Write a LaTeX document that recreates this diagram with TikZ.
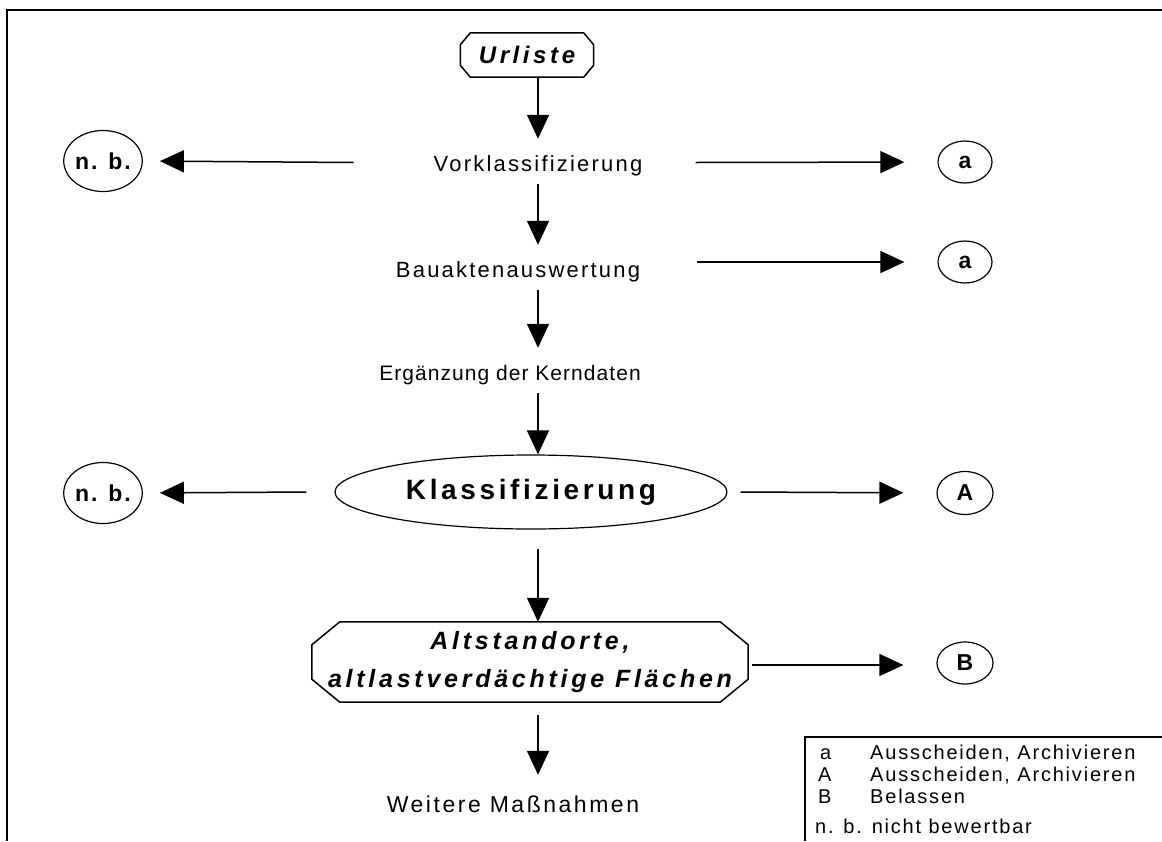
\documentclass[tikz,border=0pt]{standalone}
\usepackage{fontspec}
\setmainfont{Liberation Sans}
\newfontfamily\fBody[LetterSpace=10]{Liberation Sans}
\newfontfamily\fErg[LetterSpace=5]{Liberation Sans}
\newfontfamily\fWei[LetterSpace=11]{Liberation Sans}
\newfontfamily\fKlass[LetterSpace=13]{Liberation Sans}
\newfontfamily\fUrl[LetterSpace=15]{Liberation Sans}
\newfontfamily\fAlt[LetterSpace=15]{Liberation Sans}
\newfontfamily\fLeg[LetterSpace=9]{Liberation Sans}
\newfontfamily\fRes[LetterSpace=8]{Liberation Sans}
\usetikzlibrary{arrows.meta,shapes.geometric,calc}
\begin{document}
\begin{tikzpicture}[x=1pt,y=-1pt,
  arr/.style={-{Triangle[width=22pt,length=24pt]}, line width=1.5pt},
  txt/.style={anchor=base, inner xsep=0pt, inner ysep=0pt, text height=32pt, text depth=13pt},
  res/.style={ellipse, draw, line width=1.2pt, inner sep=0pt, font=\fRes\bfseries\fontsize{23}{24}\selectfont},
  octo/.style={line width=1.5pt, line join=miter},
  legtxt/.style={anchor=base west, inner sep=0pt, font=\fLeg\fontsize{20}{22}\selectfont}
]
\useasboundingbox (0,0) rectangle (1162,841);
% frame
\draw[line width=2.5pt] (7,841) -- (7,10) -- (1162,10);
\coordinate (spine) at (538,0);

% Urliste
\node[inner sep=0pt, minimum width=133pt, minimum height=44pt,
      font=\fUrl\bfseries\itshape\fontsize{24}{24}\selectfont] (url) at (527,55) {Urliste};
\draw[octo] ([xshift=10pt]url.north west) -- ([xshift=-10pt]url.north east)
  -- ([yshift=-12pt]url.north east) -- ([yshift=12pt]url.south east)
  -- ([xshift=-10pt]url.south east) -- ([xshift=10pt]url.south west)
  -- ([yshift=12pt]url.south west) -- ([yshift=-12pt]url.north west) -- cycle;

% text steps
\node[txt, font=\fBody\fontsize{22}{24}\selectfont] (vor) at (538,171) {Vorklassifizierung};
\node[txt, font=\fBody\fontsize{22}{24}\selectfont] (bau) at (518,277) {Bauaktenauswertung};
\node[txt, font=\fErg\fontsize{21}{22}\selectfont] (erg) at (510,380) {Ergänzung der Kerndaten};

% Klassifizierung
\node[ellipse, draw, line width=1.2pt, inner sep=0pt, minimum width=392pt, minimum height=74pt,
      font=\fKlass\bfseries\fontsize{28}{30}\selectfont] (kla) at (531,492) {Klassifizierung};

% Altstandorte
\node[inner sep=0pt, minimum width=436pt, minimum height=80pt, align=center,
      font=\fAlt\bfseries\itshape\fontsize{25}{38}\selectfont] (alt) at (530,662)
      {Altstandorte,\\altlastverdächtige Flächen};
\draw[octo] ([xshift=28pt]alt.north west) -- ([xshift=-28pt]alt.north east)
  -- ([yshift=-23pt]alt.north east) -- ([yshift=23pt]alt.south east)
  -- ([xshift=-28pt]alt.south east) -- ([xshift=28pt]alt.south west)
  -- ([yshift=23pt]alt.south west) -- ([yshift=-23pt]alt.north west) -- cycle;

\node[anchor=base, inner sep=0pt, text height=37pt, text depth=5pt,
      font=\fWei\fontsize{23}{25}\selectfont] (wei) at (513,812) {Weitere Maßnahmen};

% result ellipses
\node[res, minimum width=77pt, minimum height=61pt] (nb1) at (103,161) {n. b.};
\node[res, minimum width=77pt, minimum height=61pt] (nb2) at (103,493) {n. b.};
\node[res, minimum width=54pt, minimum height=42pt] (a1) at (965,162) {a};
\node[res, minimum width=54pt, minimum height=42pt] (a2) at (965,262) {a};
\node[res, minimum width=56pt, minimum height=43pt] (A) at (965,493) {A};
\node[res, minimum width=56pt, minimum height=42pt] (B) at (965,663) {B};

% vertical arrows
\draw[arr] (url.south -| spine) -- (vor.north -| spine);
\draw[arr] (vor.south -| spine) -- (bau.north -| spine);
\draw[arr] (bau.south -| spine) -- (erg.north -| spine);
\draw[arr] (erg.south -| spine) -- (kla.north -| spine);
\draw[arr] ($(kla.south -| spine)+(0,19)$) -- (alt.north -| spine);
\draw[arr] ($(alt.south -| spine)+(0,13)$) -- (wei.north -| spine);

% horizontal arrows
\draw[arr, shorten >=17pt] ($(vor.west)+(-80,1)$) -- (nb1.east);
\draw[arr, shorten >=33pt] ($(vor.east)+(53,1)$) -- (a1.west);
\draw[arr, shorten >=33pt] ($(bau.east |- a2.west)+(57,0)$) -- (a2.west);
\draw[arr, shorten >=17pt] ($(kla.west)+(-28,0)$) -- (nb2.east);
\draw[arr, shorten >=33pt] ($(kla.east)+(13,0)$) -- (A.west);
\draw[arr, shorten >=33pt] ($(alt.east |- B.west)+(4,2)$) -- ($(B.west)+(0,2)$);

% legend
\draw[line width=2pt] (805,841) -- (805,737) -- (1162,737);
\node[legtxt] (l1a) at (820,759) {a};
\node[legtxt] (l1b) at (870,759) {Ausscheiden, Archivieren};
\node[legtxt] (l2a) at (818,781) {A};
\node[legtxt] (l2b) at (870,781) {Ausscheiden, Archivieren};
\node[legtxt] (l3a) at (818,803) {B};
\node[legtxt] (l3b) at (870,803) {Belassen};
\node[legtxt] (l4) at (815,833) {n. b. nicht bewertbar};
\end{tikzpicture}
\end{document}
